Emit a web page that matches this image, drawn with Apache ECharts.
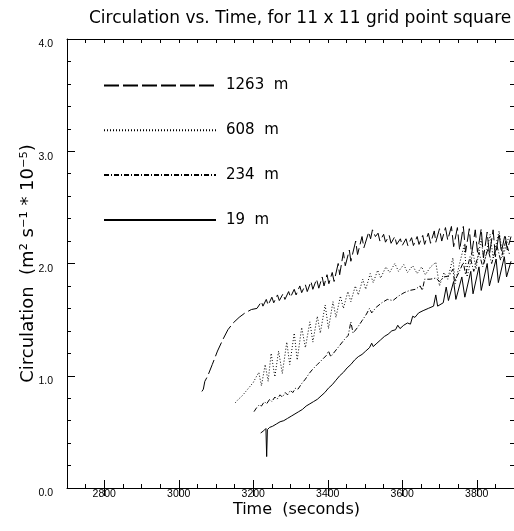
<!DOCTYPE html>
<html>
<head>
<meta charset="utf-8">
<script src="https://cdn.jsdelivr.net/npm/echarts@6/dist/echarts.min.js"></script>
<style>
  html, body { margin: 0; padding: 0; background: #fff; }
  #chart { width: 514px; height: 531px; }
</style>
</head>
<body>
<div id="chart"></div>
<script>
// series names (legend order)
const seriesNames = ['1263  m', '608  m', '234  m', '19  m']

// x tick values (major, labelled)
const xMajorTicks = [2800, 3000, 3200, 3400, 3600, 3800]

// [time (s), circulation]
const data1263 = [
  [3062, 0.86], [3066, 0.88], [3070, 0.95], [3078, 1.00], [3090, 1.10], [3104, 1.22],
  [3118, 1.32], [3132, 1.41], [3146, 1.47], [3162, 1.52], [3178, 1.56], [3195, 1.59],
  [3210, 1.60], [3215, 1.60], [3222, 1.66], [3226, 1.62], [3235, 1.68], [3240, 1.63],
  [3250, 1.70], [3255, 1.65], [3265, 1.72], [3270, 1.67], [3280, 1.73], [3285, 1.68],
  [3295, 1.75], [3300, 1.70], [3310, 1.77], [3315, 1.72], [3325, 1.80], [3330, 1.74],
  [3340, 1.81], [3345, 1.75], [3355, 1.84], [3360, 1.77], [3370, 1.86], [3376, 1.78],
  [3385, 1.88], [3390, 1.80], [3398, 1.90], [3403, 1.82], [3412, 1.92], [3417, 1.84],
  [3428, 2.00], [3432, 1.90], [3442, 2.10], [3447, 1.98], [3458, 2.12], [3462, 2.02],
  [3475, 2.20], [3480, 2.08], [3492, 2.24], [3497, 2.14], [3510, 2.28], [3515, 2.22],
  [3520, 2.30], [3528, 2.24], [3535, 2.27], [3540, 2.20], [3550, 2.26], [3555, 2.19],
  [3565, 2.25], [3570, 2.18], [3580, 2.24], [3585, 2.17], [3595, 2.22], [3600, 2.16],
  [3610, 2.22], [3615, 2.16], [3625, 2.23], [3630, 2.16], [3640, 2.24], [3645, 2.17],
  [3655, 2.25], [3660, 2.17], [3670, 2.27], [3676, 2.18], [3686, 2.29], [3690, 2.19],
  [3700, 2.31], [3706, 2.20], [3716, 2.32], [3722, 2.21], [3732, 2.33], [3738, 2.15],
  [3748, 2.32], [3754, 2.12], [3764, 2.33], [3770, 2.10], [3780, 2.31], [3786, 2.08],
  [3796, 2.30], [3802, 2.10], [3812, 2.31], [3818, 2.05], [3828, 2.28], [3834, 2.08],
  [3844, 2.30], [3850, 2.06], [3860, 2.27], [3866, 2.10], [3876, 2.26], [3882, 2.12],
  [3892, 2.24]
]

const data608 = [
  [3152, 0.76], [3160, 0.79], [3170, 0.82], [3180, 0.86], [3190, 0.90], [3200, 0.94],
  [3208, 0.99], [3215, 1.03], [3222, 0.91], [3232, 1.10], [3240, 0.95], [3248, 1.20],
  [3258, 0.99], [3268, 1.22], [3278, 1.02], [3290, 1.30], [3298, 1.10], [3310, 1.38],
  [3318, 1.14], [3330, 1.43], [3340, 1.25], [3352, 1.48], [3360, 1.30], [3372, 1.53],
  [3380, 1.38], [3393, 1.63], [3402, 1.42], [3414, 1.66], [3422, 1.52], [3434, 1.71],
  [3442, 1.60], [3454, 1.75], [3462, 1.66], [3474, 1.80], [3482, 1.72], [3494, 1.86],
  [3502, 1.77], [3514, 1.91], [3522, 1.83], [3534, 1.94], [3542, 1.87], [3556, 1.97],
  [3566, 1.92], [3580, 2.00], [3590, 1.93], [3604, 1.99], [3614, 1.92], [3628, 1.98],
  [3640, 1.91], [3652, 1.97], [3662, 1.90], [3676, 1.97], [3690, 2.01], [3700, 1.80],
  [3712, 1.92], [3722, 1.86], [3736, 2.05], [3742, 1.82], [3754, 2.00], [3766, 2.16],
  [3774, 1.88], [3790, 2.10], [3798, 1.95], [3812, 2.22], [3820, 2.00], [3836, 2.26],
  [3844, 2.05], [3860, 2.29], [3870, 2.06], [3888, 2.26]
]

const data234 = [
  [3202, 0.68], [3210, 0.72], [3216, 0.74], [3222, 0.73], [3230, 0.77], [3236, 0.75],
  [3244, 0.79], [3250, 0.77], [3258, 0.81], [3264, 0.79], [3272, 0.83], [3278, 0.81],
  [3286, 0.85], [3292, 0.83], [3300, 0.87], [3306, 0.85], [3314, 0.89], [3320, 0.88],
  [3330, 0.93], [3340, 0.97], [3350, 1.02], [3360, 1.06], [3372, 1.10], [3384, 1.14],
  [3396, 1.18], [3402, 1.22], [3408, 1.17], [3420, 1.22], [3432, 1.27], [3444, 1.32],
  [3455, 1.36], [3462, 1.48], [3468, 1.38], [3480, 1.43], [3492, 1.49], [3504, 1.55],
  [3512, 1.60], [3518, 1.56], [3530, 1.61], [3545, 1.65], [3560, 1.68], [3575, 1.67],
  [3590, 1.71], [3605, 1.74], [3620, 1.76], [3635, 1.77], [3648, 1.80], [3654, 1.76],
  [3660, 1.86], [3675, 1.86], [3690, 1.87], [3700, 1.84], [3712, 1.88], [3726, 1.89],
  [3736, 1.95], [3740, 1.84], [3752, 1.92], [3764, 2.01], [3770, 1.90], [3782, 2.06],
  [3792, 1.93], [3806, 2.10], [3816, 1.97], [3830, 2.13], [3840, 2.00], [3854, 2.16],
  [3864, 2.03], [3878, 2.20], [3888, 2.08]
]

const data19 = [
  [3220, 0.49], [3228, 0.51], [3234, 0.53], [3236, 0.28], [3238, 0.52], [3244, 0.54],
  [3252, 0.55], [3262, 0.57], [3272, 0.59], [3282, 0.60], [3292, 0.62], [3302, 0.64],
  [3312, 0.66], [3322, 0.68], [3332, 0.70], [3342, 0.73], [3352, 0.75], [3362, 0.77],
  [3372, 0.79], [3382, 0.82], [3392, 0.85], [3402, 0.89], [3412, 0.92], [3422, 0.96],
  [3432, 1.00], [3442, 1.03], [3452, 1.07], [3462, 1.10], [3472, 1.14], [3482, 1.17],
  [3492, 1.19], [3502, 1.22], [3512, 1.25], [3518, 1.29], [3522, 1.26], [3532, 1.29],
  [3542, 1.32], [3552, 1.35], [3562, 1.37], [3572, 1.40], [3582, 1.41], [3588, 1.45],
  [3594, 1.42], [3604, 1.45], [3614, 1.47], [3622, 1.46], [3628, 1.53], [3634, 1.52],
  [3644, 1.56], [3656, 1.58], [3670, 1.60], [3684, 1.62], [3690, 1.72], [3695, 1.62],
  [3710, 1.65], [3718, 1.79], [3724, 1.67], [3738, 1.84], [3744, 1.68], [3760, 1.88],
  [3768, 1.70], [3784, 1.93], [3790, 1.73], [3806, 1.97], [3812, 1.76], [3828, 2.00],
  [3834, 1.80], [3852, 2.04], [3858, 1.83], [3874, 2.06], [3880, 1.88], [3892, 2.02]
]

const seriesData = [data1263, data608, data234, data19]
const dashTypes = [[15, 4], [1, 2], [5, 2, 1, 2], 'solid']

const chart = echarts.init(document.getElementById('chart'))

const black = { color: '#000', width: 1 }
// minor-tick axis (every 50 s), carries the frame line
const xMinor = {
  type: 'value', min: 2700, max: 3900, interval: 50,
  axisLine: { show: true, onZero: false, lineStyle: black },
  axisTick: { show: true, inside: true, length: 4, lineStyle: black },
  axisLabel: { show: false },
  splitLine: { show: false }
}
// major-tick axis (every 200 s from 2800)
const xMajor = {
  type: 'value', min: 2700, max: 3900,
  axisLine: { show: false },
  axisTick: { show: true, inside: true, length: 8, lineStyle: black, customValues: xMajorTicks },
  axisLabel: { show: false },
  splitLine: { show: false }
}
const yBase = {
  type: 'value', min: 0, max: 4, interval: 1,
  axisLine: { show: true, onZero: false, lineStyle: black },
  axisTick: { show: true, inside: true, length: 8, lineStyle: black },
  minorTick: { show: true, splitNumber: 5, length: 4, lineStyle: black },
  splitLine: { show: false }
}

chart.setOption({
  animation: false,
  backgroundColor: '#fff',
  title: {
    text: 'Circulation vs. Time, for 11 x 11 grid point square',
    left: 89, top: 10, padding: 0,
    textStyle: { fontFamily: 'DejaVu Sans', fontSize: 17, fontWeight: 'normal', color: '#000' }
  },
  legend: {
    orient: 'vertical', left: 103, top: 78, padding: 0,
    itemWidth: 112, itemHeight: 14, itemGap: 29.8,
    data: seriesNames,
    selectedMode: false,
    itemStyle: { opacity: 0 },
    textStyle: { fontFamily: 'DejaVu Sans', fontSize: 15, color: '#000', padding: [0, 0, 0, 5] }
  },
  grid: { left: 67, top: 39, width: 449, height: 449 },
  xAxis: [
    {
      ...xMinor, position: 'bottom',
      name: 'Time  (seconds)', nameLocation: 'middle', nameGap: 14, nameMoveOverlap: false,
      nameTextStyle: { fontFamily: 'DejaVu Sans', fontSize: 16, color: '#000', padding: [0, 0, 0, 12] }
    },
    {
      ...xMajor, position: 'bottom',
      axisLabel: {
        show: true, margin: 1, customValues: xMajorTicks,
        fontFamily: 'Liberation Sans', fontSize: 10.5, color: '#000',
        formatter: v => String(v)
      }
    },
    { ...xMinor, position: 'top' },
    { ...xMajor, position: 'top' }
  ],
  yAxis: [
    {
      ...yBase, position: 'left',
      name: 'Circulation  (m² s⁻¹ * 10⁻⁵)', nameLocation: 'middle', nameGap: 30, nameMoveOverlap: false,
      nameTextStyle: { fontFamily: 'DejaVu Sans', fontSize: 18, color: '#000' },
      axisLabel: {
        show: true, margin: 14, verticalAlign: 'top',
        fontFamily: 'Liberation Sans', fontSize: 10.5, color: '#000',
        formatter: v => v.toFixed(1)
      }
    },
    { ...yBase, position: 'right', axisLine: { show: false }, axisLabel: { show: false } }
  ],
  series: seriesNames.map((name, i) => ({
    name: name,
    type: 'line',
    xAxisIndex: 0,
    yAxisIndex: 0,
    data: seriesData[i],
    symbol: 'none',
    showSymbol: false,
    color: '#000',
    lineStyle: { color: '#000', width: 1, type: dashTypes[i] }
  }))
})
</script>
</body>
</html>
